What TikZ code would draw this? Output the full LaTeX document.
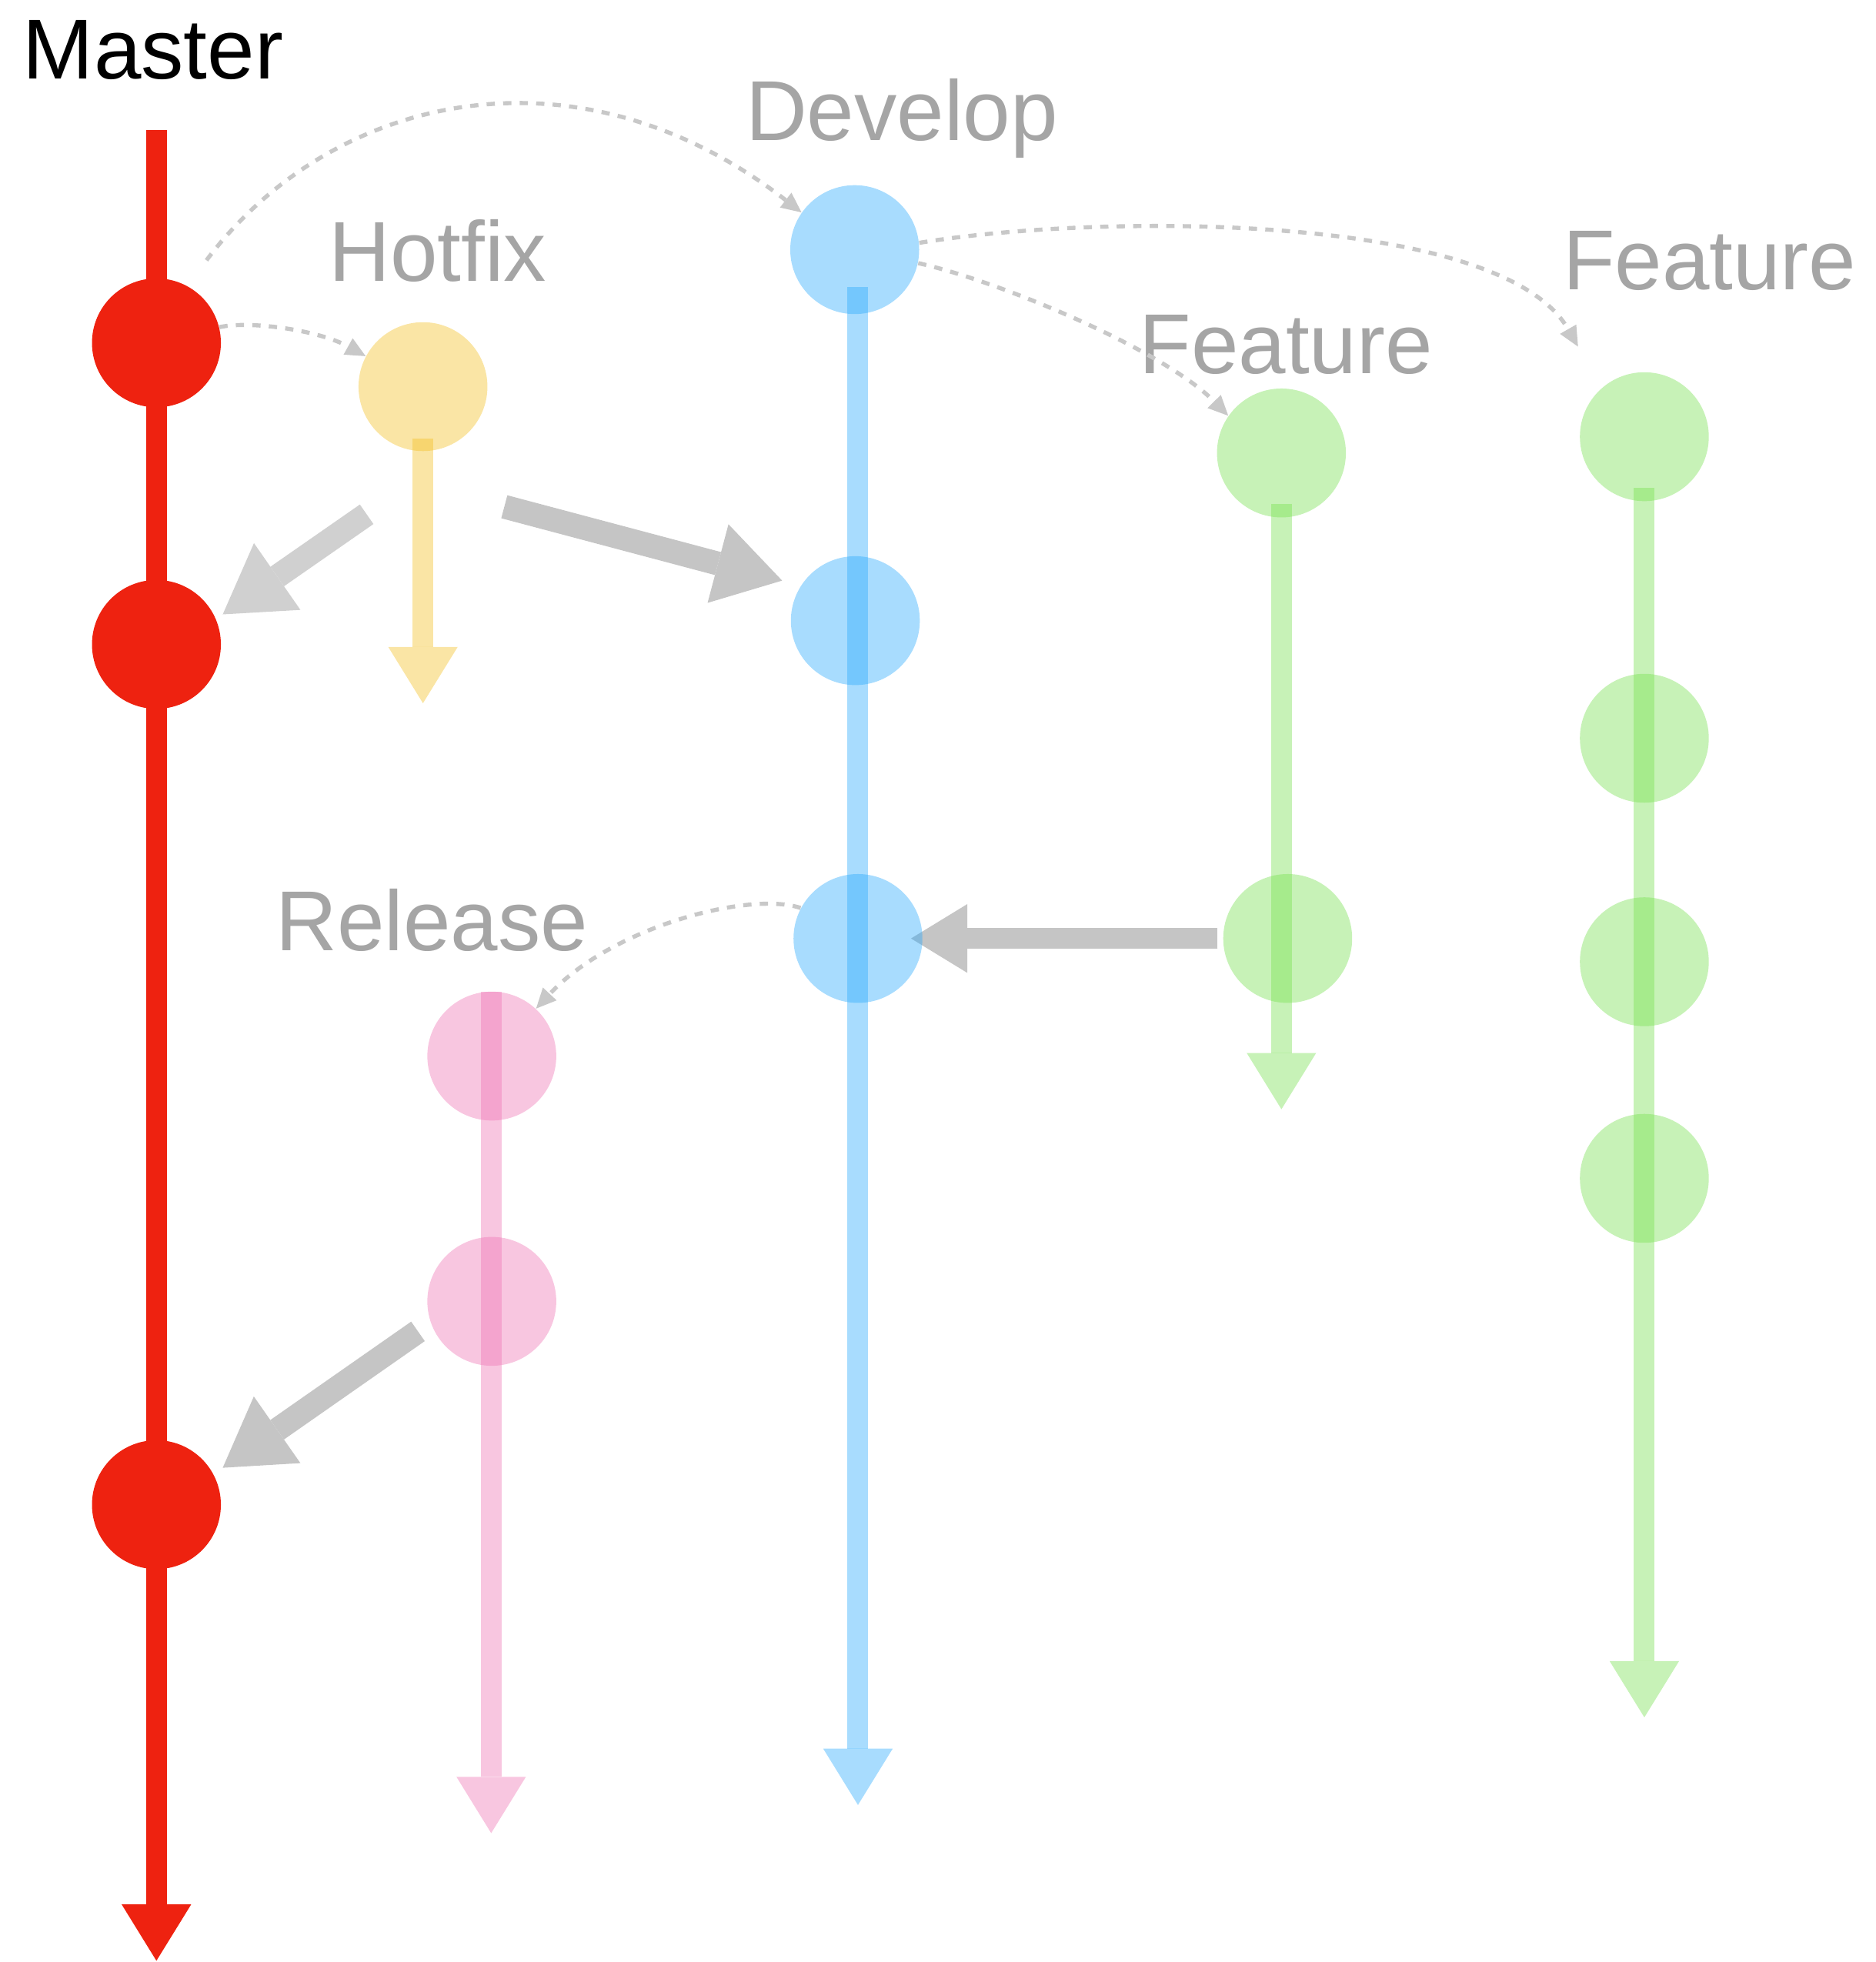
\documentclass[tikz,border=0pt]{standalone}
\usepackage{fontspec}
\setmainfont{Liberation Sans}
\usetikzlibrary{arrows.meta}

\definecolor{masterred}{RGB}{238,34,16}
\definecolor{hotfixc}{RGB}{242,190,30}
\definecolor{developc}{RGB}{38,168,252}
\definecolor{featurec}{RGB}{115,223,75}
\definecolor{releasec}{RGB}{238,113,178}
\definecolor{labelgray}{RGB}{165,165,165}
\definecolor{mergegray}{RGB}{197,197,197}
\definecolor{mergelight}{RGB}{208,208,208}
\definecolor{dashgray}{RGB}{200,200,200}

\begin{document}
\begin{tikzpicture}[x=0.5pt,y=-0.5pt,
  branchname/.style={anchor=base west, inner sep=0pt,
    font=\fontsize{34}{40}\selectfont, text=labelgray},
  mastercommit/.style={circle, minimum size=51.5pt, inner sep=0pt, fill=masterred},
  commit/.style={circle, minimum size=51.5pt, inner sep=0pt, fill=#1, fill opacity=0.4},
  trunk/.style={draw=masterred, line width=8.3pt,
    -{Triangle[width=27.75pt,length=22.5pt,line width=0pt]}},
  branchline/.style={draw=#1, opacity=0.4, line width=8.3pt,
    -{Triangle[width=27.75pt,length=22.5pt,line width=0pt]}},
  forkline/.style={draw=dashgray, line width=1.65pt, dash pattern=on 3.3pt off 3.3pt,
    -{Triangle[width=7.5pt,length=8pt,line width=0pt]}},
  mergearrow/.style={draw=#1, line width=9.5pt,
    -{Triangle[width=32.5pt,length=26.5pt,line width=0pt]}},
  flatmerge/.style={draw=#1, line width=8.25pt,
    -{Triangle[width=27.5pt,length=22.5pt,line width=0pt]}}]

\useasboundingbox (0,0) rectangle (1499,1568);

% branch names
\node[branchname, text=black] (lmaster) at (18,63) {Master};
\node[branchname] (lhotfix)  at (262.5,224.7) {Hotfix};
\node[branchname] (ldevelop) at (595.5,112) {Develop};
\node[branchname] (lfeatA)   at (910,298.7) {Feature};
\node[branchname] (lfeatB)   at (1248.5,231.3) {Feature};
\node[branchname] (lrelease) at (220,759.4) {Release};

% ends of the branch lines
\coordinate (master-top) at (125,104);    \coordinate (master-end) at (125,1567);
\coordinate (hotfix-top) at (338,350.6);  \coordinate (hotfix-end) at (338,562);
\coordinate (develop-top) at (685.6,229.5); \coordinate (develop-end) at (685.6,1442.5);
\coordinate (featA-top) at (1024,402.7);  \coordinate (featA-end) at (1024,886.5);
\coordinate (featB-top) at (1314,390);    \coordinate (featB-end) at (1314,1372.5);
\coordinate (release-top) at (392.5,792.6); \coordinate (release-end) at (392.5,1465);

% master line and commits
\draw[trunk] (master-top) -- (master-end);
\node[mastercommit] (m1) at (125,274) {};
\node[mastercommit] (m2) at (125,515) {};
\node[mastercommit] (m3) at (125,1202.5) {};

% merge arrows between branches
\coordinate (hm-from) at (293,411);  \coordinate (hm-to) at (178,491);
\coordinate (hd-from) at (403,405);  \coordinate (hd-to) at (625,464);
\coordinate (rm-from) at (334,1064); \coordinate (rm-to) at (178,1173);
\coordinate (fd-from) at (973,750);  \coordinate (fd-to) at (728,750);
\draw[mergearrow=mergelight] (hm-from) -- (hm-to);
\draw[mergearrow=mergegray] (hd-from) -- (hd-to);
\draw[mergearrow=mergegray] (rm-from) -- (rm-to);
\draw[flatmerge=mergegray] (fd-from) -- (fd-to);

% branch lines
\draw[branchline=hotfixc] (hotfix-top) -- (hotfix-end);
\draw[branchline=developc] (develop-top) -- (develop-end);
\draw[branchline=featurec] (featA-top) -- (featA-end);
\draw[branchline=featurec] (featB-top) -- (featB-end);
\draw[branchline=releasec] (release-top) -- (release-end);

% commits
\node[commit=hotfixc] (h) at (338,309) {};
\node[commit=developc] (d1) at (683,199.5) {};
\node[commit=developc] (d2) at (683.5,496) {};
\node[commit=developc] (d3) at (685.6,750) {};
\node[commit=featurec] (fa1) at (1024,362) {};
\node[commit=featurec] (fa2) at (1029,750) {};
\node[commit=featurec] (fb1) at (1314,349) {};
\node[commit=featurec] (fb2) at (1314,590) {};
\node[commit=featurec] (fb3) at (1314,768.6) {};
\node[commit=featurec] (fb4) at (1314,941.7) {};
\node[commit=releasec] (r1) at (393,844) {};
\node[commit=releasec] (r2) at (393,1040) {};

% branch-off connectors
\coordinate (m1-out) at (165,208);
\coordinate (fb-in) at (1261,277);
\draw[forkline] (m1-out) .. controls (265,75) and (460,30) .. (d1.145);
\draw[forkline] (m1.14) .. controls (200,256) and (255,264) .. (h.152);
\draw[forkline] (d1.6) .. controls (880,170) and (1200,170) .. (fb-in);
\draw[forkline] (d1.-12) .. controls (800,225) and (930,280) .. (fa1.145);
\draw[forkline] (d3.152) .. controls (600,712) and (490,740) .. (r1.47);

\end{tikzpicture}
\end{document}
